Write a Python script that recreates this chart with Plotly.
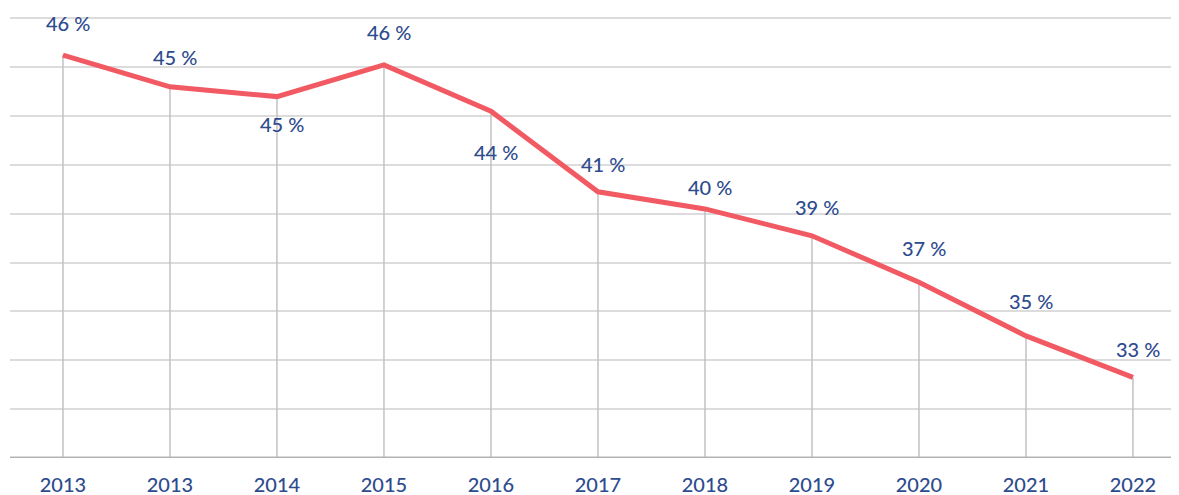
import plotly.graph_objects as go

# ---- data ----
years = ["2013", "2013", "2014", "2015", "2016", "2017", "2018", "2019", "2020", "2021", "2022"]
share = [46.5, 45.2, 44.8, 46.1, 44.2, 40.9, 40.2, 39.1, 37.2, 35.0, 33.3]
labels = ["46 %", "45 %", "45 %", "46 %", "44 %", "41 %", "40 %", "39 %", "37 %", "35 %", "33 %"]

# label placement (pixels, + = above)
label_dy = [32, 30, -27, 33, -41, 28, 22, 29, 34, 35, 28]

Y_MIN, Y_MAX = 30, 48.06
x_idx = list(range(len(years)))

TEXT = "#2E4B8E"
LINE = "#F25A63"
FONT = "Lato"

# drop lines built from the data
dx, dy = [], []
for i, v in zip(x_idx, share):
    dx += [i, i, None]
    dy += [Y_MIN, v, None]

fig = go.Figure()
fig.add_trace(go.Scatter(x=dx, y=dy, mode="lines",
                         line=dict(color="#c2c2c2", width=1.5),
                         hoverinfo="skip", showlegend=False))
fig.add_trace(go.Scatter(x=x_idx, y=share, mode="lines",
                         line=dict(color=LINE, width=5),
                         showlegend=False))

for i, v, t, s in zip(x_idx, share, labels, label_dy):
    fig.add_annotation(x=i, y=v, text=t, showarrow=False,
                       xshift=5, yshift=s,
                       font=dict(family=FONT, size=20, color=TEXT, weight=500))

fig.update_layout(
    width=1179, height=495,
    margin=dict(l=2, r=0, t=9, b=45),
    paper_bgcolor="white", plot_bgcolor="white",
    xaxis=dict(range=[-0.495, 10.505], tickmode="array", tickvals=x_idx, ticktext=years,
               showgrid=False, zeroline=False, showline=False, ticks="",
               ticklabelstandoff=13,
               tickfont=dict(family=FONT, size=20, color=TEXT, weight=500)),
    yaxis=dict(range=[Y_MIN, Y_MAX], dtick=2, tick0=30, showticklabels=False,
               showgrid=True, gridcolor="#dcdcdc", gridwidth=1.5,
               zeroline=False, showline=False, ticks=""),
    shapes=[dict(type="line", xref="paper", yref="y", x0=0, x1=1, y0=Y_MIN, y1=Y_MIN,
                 line=dict(color="#b3b3b3", width=3))],
)

fig.write_html("out.html")
